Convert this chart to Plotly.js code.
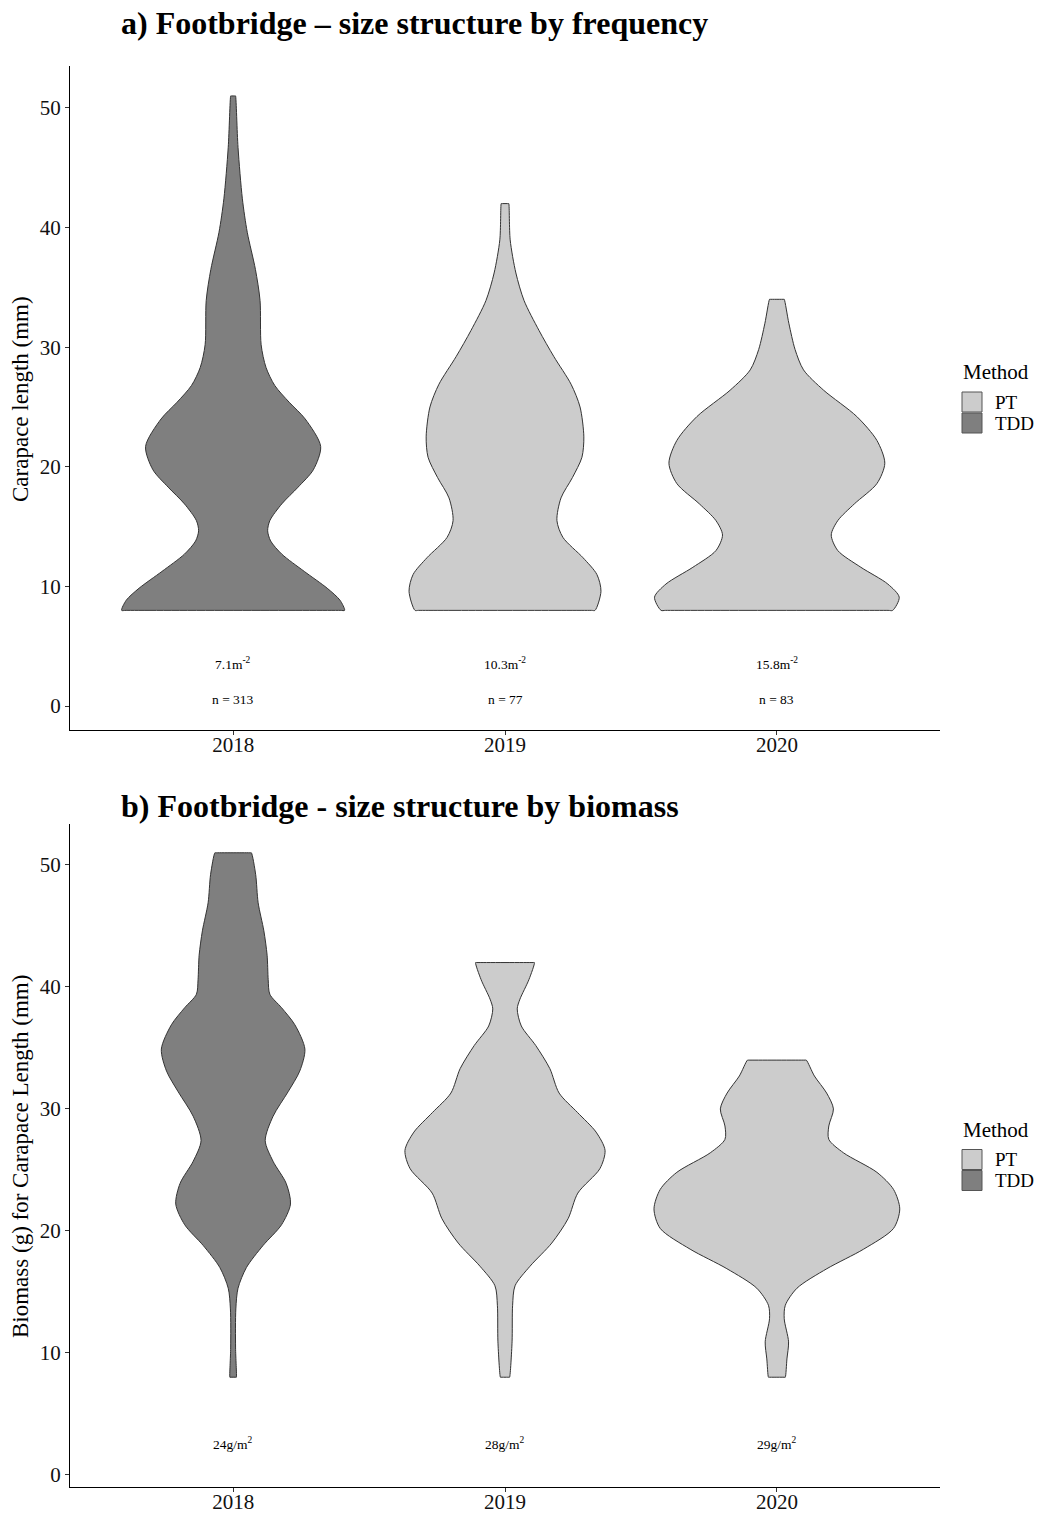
<!DOCTYPE html>
<html>
<head>
<meta charset="utf-8">
<script src="https://cdn.plot.ly/plotly-3.0.1.min.js"></script>
<style>html,body{margin:0;padding:0;background:#fff;}#chart{width:1043px;height:1515px;}</style>
</head>
<body>
<div id="chart"></div>
<script>
// ---------- DATA ----------
const years = ['2018', '2019', '2020'];
const methods = ['PT', 'TDD'];
const methodByYear = ['TDD', 'PT', 'PT'];

// Panel a: size structure by frequency (violin half-widths, in category units, at carapace length y)
const freqY2018 = [51, 46.7, 42.4, 39.6, 36.5, 33.9, 30.2, 28.3, 26.8, 25.4, 24.0, 21.7, 19.75, 18.3, 16.9, 15.5, 14.65, 13.8, 12.7, 11.25, 9.85, 8.85, 8];
const freqW2018 = [0.009, 0.018, 0.034, 0.052, 0.082, 0.099, 0.103, 0.121, 0.153, 0.206, 0.265, 0.322, 0.295, 0.239, 0.179, 0.135, 0.127, 0.138, 0.179, 0.262, 0.346, 0.393, 0.41];
const freqY2019 = [42, 38.97, 36.2, 33.9, 31.4, 29.2, 26.9, 25.0, 22.5, 20.8, 19.1, 17.4, 15.5, 14.1, 12.4, 11.0, 9.6, 8];
const freqW2019 = [0.014, 0.019, 0.040, 0.070, 0.125, 0.180, 0.243, 0.276, 0.290, 0.283, 0.248, 0.206, 0.191, 0.213, 0.287, 0.338, 0.353, 0.331];
const freqY2020 = [34, 32.0, 29.8, 28.1, 26.4, 24.2, 22.2, 20.3, 18.6, 16.9, 15.5, 14.3, 13.0, 11.6, 10.2, 9.1, 8];
const freqW2020 = [0.027, 0.044, 0.067, 0.098, 0.172, 0.294, 0.368, 0.397, 0.368, 0.285, 0.224, 0.200, 0.224, 0.309, 0.408, 0.450, 0.426];

// Panel b: size structure by biomass
const bioY2018 = [51, 49.2, 46.9, 44.6, 42.6, 40.6, 39.4, 38.3, 36.9, 34.9, 33.1, 31.4, 29.4, 27.4, 25.7, 23.9, 22.2, 20.5, 18.8, 17.0, 15.3, 13.6, 10.4, 8];
const bioW2018 = [0.067, 0.083, 0.092, 0.113, 0.125, 0.129, 0.135, 0.178, 0.227, 0.264, 0.245, 0.202, 0.147, 0.118, 0.147, 0.195, 0.211, 0.178, 0.110, 0.049, 0.018, 0.010, 0.009, 0.012];
const bioY2019 = [42, 40.6, 39.0, 38.2, 36.8, 35.2, 33.3, 31.3, 29.7, 28.1, 26.6, 25.1, 23.1, 21.0, 19.0, 17.1, 15.5, 13.9, 10.9, 8];
const bioW2019 = [0.108, 0.088, 0.055, 0.045, 0.060, 0.113, 0.165, 0.199, 0.267, 0.335, 0.368, 0.349, 0.268, 0.232, 0.172, 0.092, 0.037, 0.028, 0.026, 0.017];
const bioY2020 = [34, 32.7, 31.3, 30.0, 28.6, 27.5, 26.4, 24.8, 23.4, 21.8, 20.2, 18.5, 16.9, 15.3, 13.9, 12.8, 10.9, 9.5, 8];
const bioW2020 = [0.108, 0.138, 0.183, 0.208, 0.191, 0.191, 0.245, 0.368, 0.429, 0.452, 0.429, 0.319, 0.184, 0.074, 0.031, 0.027, 0.043, 0.037, 0.031];

// Text labels
const densityLabels = ['7.1m<sup>-2</sup>', '10.3m<sup>-2</sup>', '15.8m<sup>-2</sup>'];
const countLabels = ['n = 313', 'n = 77', 'n = 83'];
const biomassLabels = ['24g/m<sup>2</sup>', '28g/m<sup>2</sup>', '29g/m<sup>2</sup>'];

// ---------- STYLE ----------
const FONT = 'Liberation Serif, Times New Roman, serif';
const fillColors = { PT: '#cccccc', TDD: '#7f7f7f' };
const outline = '#333333';

// ---------- BUILD ----------
// Closed outline: flat top and flat bottom edges (helper points keep the spline corners sharp)
function violinTrace(center, ys, ws, method, xa, ya) {
  const k = 0.96, n = ys.length;
  const x = [center + k * ws[0]], y = [ys[0]];
  for (let i = 0; i < n; i++) { x.push(center + ws[i]); y.push(ys[i]); }
  x.push(center + k * ws[n - 1]); y.push(ys[n - 1]);
  x.push(center - k * ws[n - 1]); y.push(ys[n - 1]);
  for (let i = n - 1; i >= 0; i--) { x.push(center - ws[i]); y.push(ys[i]); }
  x.push(center - k * ws[0]); y.push(ys[0]);
  x.push(x[0]); y.push(y[0]);
  return {
    type: 'scatter', mode: 'lines', x: x, y: y, xaxis: xa, yaxis: ya,
    fill: 'toself', fillcolor: fillColors[method],
    line: { color: outline, width: 1, shape: 'spline', smoothing: 0.8 },
    showlegend: false, hoverinfo: 'skip'
  };
}

const freqSets = [[freqY2018, freqW2018], [freqY2019, freqW2019], [freqY2020, freqW2020]];
const bioSets = [[bioY2018, bioW2018], [bioY2019, bioW2019], [bioY2020, bioW2020]];
const traces = [];
freqSets.forEach((s, i) => traces.push(violinTrace(i, s[0], s[1], methodByYear[i], 'x', 'y')));
bioSets.forEach((s, i) => traces.push(violinTrace(i, s[0], s[1], methodByYear[i], 'x2', 'y2')));

// layout helpers (pixel -> paper)
const W = 1043, H = 1515;
const M = { l: 70, r: 103, t: 66, b: 28 };
const PW = W - M.l - M.r, PH = H - M.t - M.b;
const px = v => (v - M.l) / PW;
const py = v => (H - M.b - v) / PH;

const axisCommon = {
  showline: true, linecolor: '#000', linewidth: 1.1, showgrid: false, zeroline: false,
  ticks: 'outside', ticklen: 4, tickwidth: 1, tickcolor: '#333',
  tickfont: { family: FONT, size: 21, color: '#111' }, fixedrange: true
};
const xaxisBase = Object.assign({}, axisCommon, {
  range: [-0.6, 2.6], tickmode: 'array', tickvals: years.map((_, i) => i), ticktext: years,
  ticklabelstandoff: -8
});
const yTicks = [0, 10, 20, 30, 40, 50];

const annotations = [];
const textFont = { family: FONT, size: 13.5, color: '#000' };
years.forEach((_, i) => {
  annotations.push({ x: i, y: 3.6, xref: 'x', yref: 'y', text: densityLabels[i], showarrow: false, font: textFont });
  annotations.push({ x: i, y: 0.55, xref: 'x', yref: 'y', text: countLabels[i], showarrow: false, font: textFont });
  annotations.push({ x: i, y: 2.6, xref: 'x2', yref: 'y2', text: biomassLabels[i], showarrow: false, font: textFont });
});
// titles
annotations.push({ x: px(119), y: py(23), xref: 'paper', yref: 'paper', xanchor: 'left', yanchor: 'middle', showarrow: false,
  text: '<b>a) Footbridge – size structure by frequency</b>', font: { family: FONT, size: 32, color: '#000' } });
annotations.push({ x: px(119), y: py(806), xref: 'paper', yref: 'paper', xanchor: 'left', yanchor: 'middle', showarrow: false,
  text: '<b>b) Footbridge - size structure by biomass</b>', font: { family: FONT, size: 32, color: '#000' } });
// y-axis titles
annotations.push({ x: px(20), y: py(399), xref: 'paper', yref: 'paper', xanchor: 'center', yanchor: 'middle', showarrow: false,
  textangle: -90, text: 'Carapace length (mm)', font: { family: FONT, size: 23, color: '#000' } });
annotations.push({ x: px(20), y: py(1157), xref: 'paper', yref: 'paper', xanchor: 'center', yanchor: 'middle', showarrow: false,
  textangle: -90, text: 'Biomass (g) for Carapace Length (mm)', font: { family: FONT, size: 23, color: '#000' } });

// legends (one per panel)
const shapes = [];
[0, 757.5].forEach(off => {
  annotations.push({ x: px(961), y: py(372 + off), xref: 'paper', yref: 'paper', xanchor: 'left', yanchor: 'middle', showarrow: false,
    text: 'Method', font: { family: FONT, size: 21, color: '#000' } });
  methods.forEach((m, k) => {
    const top = 392 + off + k * 21;
    shapes.push({ type: 'rect', xref: 'paper', yref: 'paper', x0: px(962), x1: px(982), y0: py(top + 20), y1: py(top),
      fillcolor: fillColors[m], line: { color: '#555', width: 1 } });
    annotations.push({ x: px(993), y: py(top + 10), xref: 'paper', yref: 'paper', xanchor: 'left', yanchor: 'middle', showarrow: false,
      text: m, font: { family: FONT, size: 19, color: '#000' } });
  });
});

const layout = {
  width: W, height: H, margin: M, paper_bgcolor: '#fff', plot_bgcolor: '#fff', showlegend: false,
  xaxis: Object.assign({}, xaxisBase, { anchor: 'y', domain: [0, 1] }),
  yaxis: Object.assign({}, axisCommon, { anchor: 'x', domain: [py(730), py(66)], range: [-2.0, 53.5], tickvals: yTicks }),
  xaxis2: Object.assign({}, xaxisBase, { anchor: 'y2', domain: [0, 1] }),
  yaxis2: Object.assign({}, axisCommon, { anchor: 'x2', domain: [py(1487), py(823.5)], range: [-1.0, 53.4], tickvals: yTicks }),
  annotations: annotations, shapes: shapes
};

Plotly.newPlot('chart', traces, layout, { displayModeBar: false, staticPlot: true });
</script>
</body>
</html>
